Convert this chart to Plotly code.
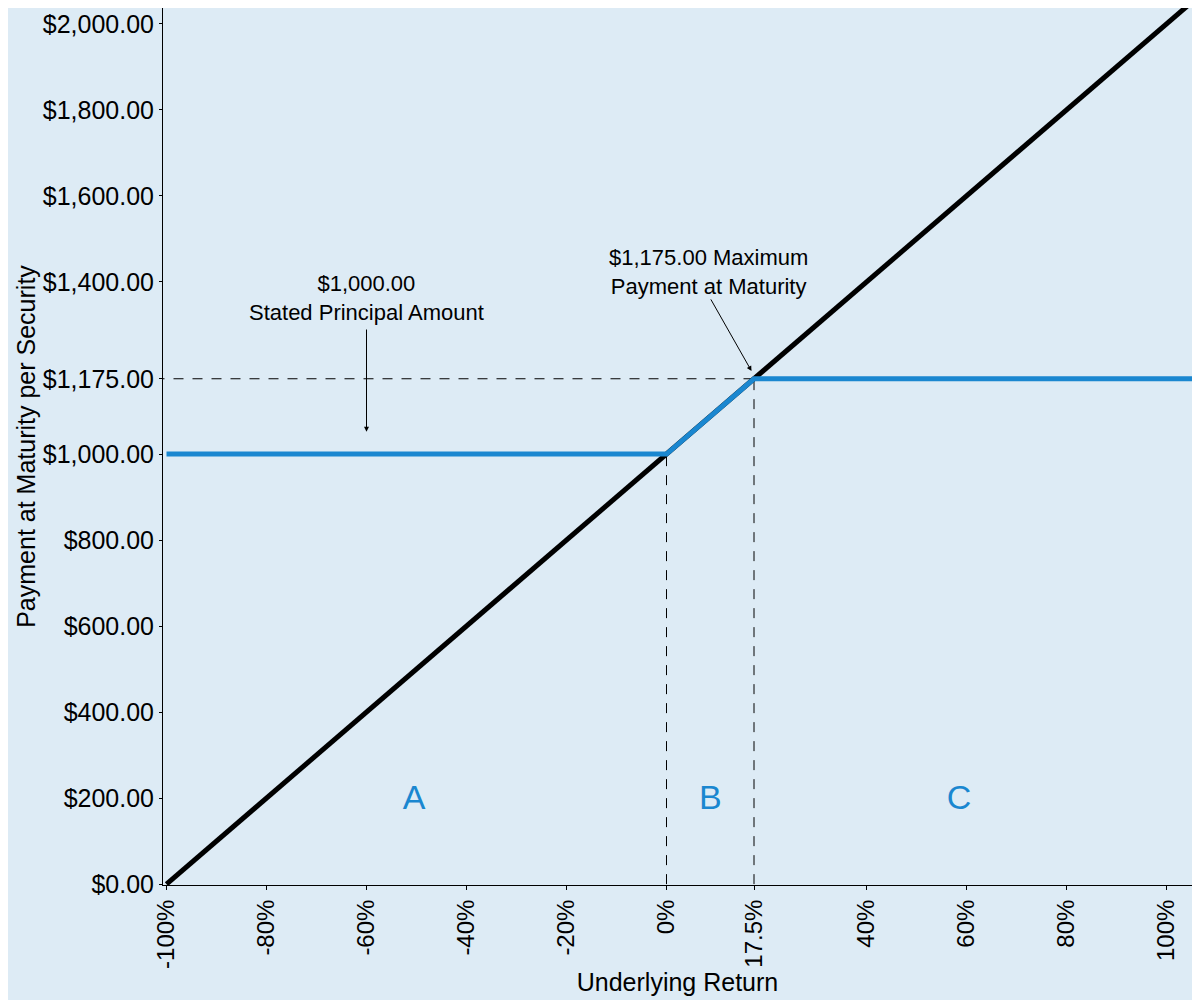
import plotly.graph_objects as go

# underlying return (fraction) and payment at maturity
underlying_x = [-1.0, 1.06]
underlying_payment = [0, 2060]

security_x = [-1.0, 0.0, 0.175, 1.06]
security_payment = [1000, 1000, 1175, 1175]

cap_return = 0.175
cap_payment = 1175
principal = 1000

x_tickvals = [-1.0, -0.8, -0.6, -0.4, -0.2, 0.0, 0.175, 0.4, 0.6, 0.8, 1.0]
x_ticktext = ["-100%", "-80%", "-60%", "-40%", "-20%", "0%", "17.5%", "40%", "60%", "80%", "100%"]
y_tickvals = [0, 200, 400, 600, 800, 1000, 1175, 1400, 1600, 1800, 2000]
y_ticktext = ["$0.00", "$200.00", "$400.00", "$600.00", "$800.00", "$1,000.00",
              "$1,175.00", "$1,400.00", "$1,600.00", "$1,800.00", "$2,000.00"]

region_labels = ["A", "B", "C"]
region_x = [-0.505, 0.0875, 0.585]
region_y = [195, 195, 195]

BG = "#ddebf5"
BLUE = "#1a87d0"
FONT = "Liberation Sans, Arial, sans-serif"

fig = go.Figure()

# dashed guide lines
dash = dict(color="black", width=1, dash="10px,9px")
fig.add_trace(go.Scatter(x=[-1.1, cap_return], y=[cap_payment, cap_payment], mode="lines",
                         line=dash, hoverinfo="skip"))
fig.add_trace(go.Scatter(x=[0, 0], y=[0, principal], mode="lines", line=dash, hoverinfo="skip"))
fig.add_trace(go.Scatter(x=[cap_return, cap_return], y=[0, cap_payment], mode="lines",
                         line=dash, hoverinfo="skip"))

# underlying line
fig.add_trace(go.Scatter(x=underlying_x, y=underlying_payment, mode="lines",
                         line=dict(color="black", width=5)))
# security payoff
fig.add_trace(go.Scatter(x=security_x, y=security_payment, mode="lines",
                         line=dict(color=BLUE, width=5)))

fig.add_trace(go.Scatter(x=region_x, y=region_y, mode="text", text=region_labels,
                         textfont=dict(color=BLUE, size=34, family=FONT)))

# arrows
fig.add_annotation(x=-0.6, y=1052, ax=-0.6, ay=1293, xref="x", yref="y", axref="x", ayref="y",
                   text="", showarrow=True, arrowhead=2, arrowsize=1, arrowwidth=1, arrowcolor="black")
fig.add_annotation(x=0.17, y=1193, ax=0.087, ay=1363, xref="x", yref="y", axref="x", ayref="y",
                   text="", showarrow=True, arrowhead=2, arrowsize=1, arrowwidth=1, arrowcolor="black")

fig.add_annotation(x=-0.6, y=1362, text="$1,000.00<br>Stated Principal Amount", showarrow=False,
                   font=dict(size=22, color="black", family=FONT))
fig.add_annotation(x=0.083, y=1424, text="$1,175.00 Maximum<br>Payment at Maturity", showarrow=False,
                   font=dict(size=22, color="black", family=FONT))

fig.update_layout(
    width=1192, height=992,
    margin=dict(l=155, r=8, t=0, b=115),
    paper_bgcolor=BG, plot_bgcolor=BG,
    showlegend=False,
    font=dict(family=FONT, color="black", size=25),
)
fig.update_xaxes(range=[-1.007, 1.051], tickvals=x_tickvals, ticktext=x_ticktext, tickangle=-90,
                 ticks="outside", ticklen=4, tickcolor="black", showgrid=False, zeroline=False,
                 showline=True, linecolor="black", linewidth=1, mirror=True, automargin=False,
                 tickfont=dict(size=24),
                 title=dict(text="Underlying Return", font=dict(size=25), standoff=0))
fig.update_yaxes(range=[-2, 2037], tickvals=y_tickvals, ticktext=y_ticktext,
                 ticks="outside", ticklen=3, tickcolor="black", showgrid=False, zeroline=False,
                 showline=True, linecolor="black", linewidth=1, mirror=True, automargin=False,
                 tickfont=dict(size=25),
                 title=dict(text="Payment at Maturity per Security", font=dict(size=25), standoff=0))

fig.write_html("out.html")
